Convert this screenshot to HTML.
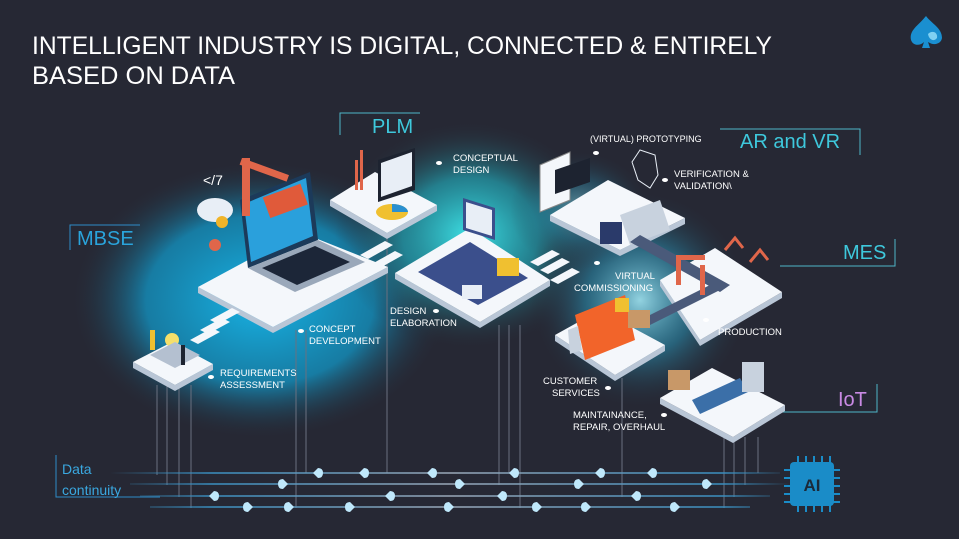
<!DOCTYPE html>
<html><head><meta charset="utf-8"><style>
html,body{margin:0;padding:0;background:#262834;}
svg{display:block}
text{font-family:"Liberation Sans",sans-serif;}
</style></head><body>
<svg width="959" height="539" viewBox="0 0 959 539" xmlns="http://www.w3.org/2000/svg">
<defs>
<radialGradient id="g1" cx="0.5" cy="0.5" r="0.5"><stop offset="0" stop-color="#18b4e6" stop-opacity="1"/><stop offset="0.6" stop-color="#1298c8" stop-opacity="0.75"/><stop offset="1" stop-color="#262834" stop-opacity="0"/></radialGradient>
<radialGradient id="g2" cx="0.5" cy="0.5" r="0.5"><stop offset="0" stop-color="#3ee0e4" stop-opacity="1"/><stop offset="0.5" stop-color="#22b8c8" stop-opacity="0.6"/><stop offset="1" stop-color="#262834" stop-opacity="0"/></radialGradient>
<radialGradient id="g3" cx="0.5" cy="0.5" r="0.5"><stop offset="0" stop-color="#9fe6f4" stop-opacity="0.9"/><stop offset="0.5" stop-color="#2a9cc0" stop-opacity="0.5"/><stop offset="1" stop-color="#262834" stop-opacity="0"/></radialGradient>
<linearGradient id="hl" gradientUnits="userSpaceOnUse" x1="110" y1="0" x2="790" y2="0"><stop offset="0" stop-color="#3a8fc0" stop-opacity="0"/><stop offset="0.15" stop-color="#3a8fc0"/><stop offset="0.5" stop-color="#9aa8b8"/><stop offset="0.9" stop-color="#3a8fc0"/><stop offset="1" stop-color="#3a8fc0" stop-opacity="0"/></linearGradient>
</defs>
<rect width="959" height="539" fill="#262834"/>
<!-- glows -->
<ellipse cx="260" cy="300" rx="190" ry="140" fill="url(#g1)"/>
<ellipse cx="470" cy="235" rx="135" ry="115" fill="url(#g2)"/>
<ellipse cx="640" cy="300" rx="110" ry="110" fill="url(#g3)"/>
<ellipse cx="580" cy="210" rx="70" ry="60" fill="url(#g3)" opacity="0.6"/>

<!-- title -->
<text x="32" y="54" font-size="25" fill="#fff" textLength="740" lengthAdjust="spacingAndGlyphs">INTELLIGENT INDUSTRY IS DIGITAL, CONNECTED &amp; ENTIRELY</text>
<text x="32" y="84" font-size="25" fill="#fff" textLength="203" lengthAdjust="spacingAndGlyphs">BASED ON DATA</text>
<!-- logo -->
<path d="M926 16 C918 26 909 30 911 40 C913 46 920 46 924 42 L922 48 L930 48 L928 42 C934 46 941 44 942 38 C942 28 932 24 926 16Z" fill="#1a8fd0"/>
<path d="M928 34 C932 30 938 32 937 38 C934 42 929 40 928 34Z" fill="#7fd0f2"/>

<!-- vertical lines -->
<g stroke="#6a7080" stroke-width="1">
<line x1="157" y1="385" x2="157" y2="475"/><line x1="167" y1="385" x2="167" y2="485"/><line x1="179" y1="385" x2="179" y2="497"/><line x1="191" y1="385" x2="191" y2="508"/>
<line x1="296" y1="330" x2="296" y2="508"/><line x1="306" y1="330" x2="306" y2="473"/>
<line x1="387" y1="234" x2="387" y2="473"/>
<line x1="499" y1="325" x2="499" y2="485"/><line x1="509" y1="325" x2="509" y2="473"/><line x1="520" y1="325" x2="520" y2="508"/>
<line x1="622" y1="378" x2="622" y2="497"/>
<line x1="724" y1="437" x2="724" y2="508"/><line x1="734" y1="437" x2="734" y2="497"/><line x1="745" y1="437" x2="745" y2="485"/><line x1="758" y1="437" x2="758" y2="473"/>
</g>
<!-- data lines -->
<g stroke="url(#hl)" stroke-width="1.6">
<line x1="110" y1="473" x2="780" y2="473"/><line x1="130" y1="484" x2="790" y2="484"/><line x1="140" y1="496" x2="770" y2="496"/><line x1="150" y1="507" x2="750" y2="507"/>
</g>
<g fill="#bfe8fb">
<path d="M313 473 l5 -5 q5 0 5 5 q0 5 -5 5z"/><path d="M359 473 l5 -5 q5 0 5 5 q0 5 -5 5z"/><path d="M427 473 l5 -5 q5 0 5 5 q0 5 -5 5z"/><path d="M509 473 l5 -5 q5 0 5 5 q0 5 -5 5z"/><path d="M595 473 l5 -5 q5 0 5 5 q0 5 -5 5z"/><path d="M647 473 l5 -5 q5 0 5 5 q0 5 -5 5z"/>
<path d="M288 484 l-5 -5 q-5 0 -5 5 q0 5 5 5z"/><path d="M465 484 l-5 -5 q-5 0 -5 5 q0 5 5 5z"/><path d="M584 484 l-5 -5 q-5 0 -5 5 q0 5 5 5z"/><path d="M712 484 l-5 -5 q-5 0 -5 5 q0 5 5 5z"/>
<path d="M209 496 l5 -5 q5 0 5 5 q0 5 -5 5z"/><path d="M385 496 l5 -5 q5 0 5 5 q0 5 -5 5z"/><path d="M497 496 l5 -5 q5 0 5 5 q0 5 -5 5z"/><path d="M631 496 l5 -5 q5 0 5 5 q0 5 -5 5z"/>
<path d="M253 507 l-5 -5 q-5 0 -5 5 q0 5 5 5z"/><path d="M294 507 l-5 -5 q-5 0 -5 5 q0 5 5 5z"/><path d="M355 507 l-5 -5 q-5 0 -5 5 q0 5 5 5z"/><path d="M454 507 l-5 -5 q-5 0 -5 5 q0 5 5 5z"/><path d="M542 507 l-5 -5 q-5 0 -5 5 q0 5 5 5z"/><path d="M591 507 l-5 -5 q-5 0 -5 5 q0 5 5 5z"/><path d="M680 507 l-5 -5 q-5 0 -5 5 q0 5 5 5z"/>
</g>
<!-- Data continuity -->
<path d="M56 455 V497 H160" fill="none" stroke="#2e8cc8" stroke-width="1"/>
<text x="62" y="474" font-size="14" fill="#3aa8e0">Data</text>
<text x="62" y="495" font-size="14" fill="#3aa8e0">continuity</text>
<!-- AI chip -->
<g stroke="#1a8cc8" stroke-width="2"><line x1="798" y1="456" x2="798" y2="512"/><line x1="806" y1="456" x2="806" y2="512"/><line x1="814" y1="456" x2="814" y2="512"/><line x1="822" y1="456" x2="822" y2="512"/><line x1="830" y1="456" x2="830" y2="512"/>
<line x1="784" y1="470" x2="840" y2="470"/><line x1="784" y1="478" x2="840" y2="478"/><line x1="784" y1="486" x2="840" y2="486"/><line x1="784" y1="494" x2="840" y2="494"/><line x1="784" y1="502" x2="840" y2="502"/></g>
<rect x="790" y="462" width="44" height="44" rx="4" fill="#1a8cc8"/>
<text x="812" y="491" font-size="17" font-weight="bold" fill="#1b2a3a" text-anchor="middle">AI</text>

<!-- category labels -->
<path d="M340 135 V113 H420" fill="none" stroke="#4fb6c8" stroke-width="1"/>
<text x="372" y="133" font-size="20" fill="#3ec8dc">PLM</text>
<path d="M720 129 H860 V155" fill="none" stroke="#4fb6c8" stroke-width="1"/>
<text x="740" y="148" font-size="20" fill="#3ec8dc">AR and VR</text>
<path d="M70 250 V225 H140" fill="none" stroke="#2e8cc8" stroke-width="1"/>
<text x="77" y="245" font-size="20" fill="#2aa4dc">MBSE</text>
<path d="M780 266 H895 V239" fill="none" stroke="#4fb6c8" stroke-width="1"/>
<text x="843" y="259" font-size="20" fill="#3ec8dc">MES</text>
<path d="M770 412 H877 V384" fill="none" stroke="#4fb6c8" stroke-width="1"/>
<text x="838" y="406" font-size="20" fill="#c98ae4">IoT</text>

<!-- platforms -->
<g>
<polygon points="198,287 273,327 388,267 388,273 273,333 198,293" fill="#b9c6d6"/>
<polygon points="198,287 300,232 388,267 273,327" fill="#f4f7fb"/>
<polygon points="133,362 175,385 213,364 213,370 175,391 133,368" fill="#b9c6d6"/>
<polygon points="133,362 172,342 213,364 175,385" fill="#f4f7fb"/>
<polygon points="330,200 387,233 437,205 437,211 387,239 330,206" fill="#b9c6d6"/>
<polygon points="330,200 375,172 437,205 387,233" fill="#f4f7fb"/>
<polygon points="395,273 480,322 550,280 550,286 480,328 395,279" fill="#b9c6d6"/>
<polygon points="395,273 470,228 550,280 480,322" fill="#f4f7fb"/>
<polygon points="418,272 470,242 528,278 478,305" fill="#3b4f8c"/>
<polygon points="550,215 620,250 685,218 685,224 620,256 550,221" fill="#b9c6d6"/>
<polygon points="550,215 608,180 685,218 620,250" fill="#f4f7fb"/>
<!-- MES -->
<polygon points="660,280 700,340 782,292 782,298 700,346 660,286" fill="#b9c6d6"/>
<polygon points="660,280 715,248 782,292 700,340" fill="#f4f7fb"/>
<polygon points="555,335 615,375 665,345 665,351 615,381 555,341" fill="#b9c6d6"/>
<polygon points="555,335 600,310 665,345 615,375" fill="#f4f7fb"/>
<polygon points="660,398 733,437 785,405 785,411 733,443 660,404" fill="#b9c6d6"/>
<polygon points="660,398 712,368 785,405 733,437" fill="#f4f7fb"/>
<g fill="#f4f7fb">
<polygon points="190,340 212,328 220,332 198,344"/><polygon points="200,330 222,318 230,322 208,334"/><polygon points="210,320 232,308 240,312 218,324"/>
<polygon points="360,255 385,241 393,245 368,259"/><polygon points="370,265 395,251 403,255 378,269"/>
<polygon points="540,270 562,258 570,262 548,274"/><polygon points="550,280 572,268 580,272 558,284"/><polygon points="530,262 552,250 560,254 538,266"/>
</g>
</g>

<!-- decorations -->
<polygon points="240,200 310,172 318,240 248,268" fill="#1c3a5a"/>
<polygon points="244,204 306,178 313,236 251,262" fill="#2aa0dc"/>
<polygon points="248,268 318,240 365,262 295,292" fill="#9aa8ba"/>
<polygon points="262,268 315,246 350,262 297,285" fill="#1c2638"/>
<rect x="265" y="190" width="40" height="22" fill="#e05a3a" transform="rotate(-20 285 200)"/>
<rect x="242" y="158" width="8" height="58" fill="#e0664a"/><rect x="242" y="158" width="50" height="7" fill="#e0664a" transform="rotate(20 242 158)"/>
<ellipse cx="215" cy="210" rx="18" ry="12" fill="#e8eef6"/><circle cx="222" cy="222" r="6" fill="#f0b429"/><circle cx="215" cy="245" r="6" fill="#e0664a"/>
<text x="203" y="185" font-size="14" fill="#fff">&lt;/7</text>
<polygon points="378,160 415,148 415,190 378,202" fill="#1d2330"/>
<polygon points="381,163 412,152 412,186 381,197" fill="#e8eef6"/>
<rect x="355" y="160" width="3" height="30" fill="#e0664a"/><rect x="360" y="150" width="3" height="40" fill="#e0664a"/>
<ellipse cx="392" cy="212" rx="16" ry="8" fill="#f0c030"/><path d="M392 212 L408 212 A16 8 0 0 0 392 204Z" fill="#2a90d0"/>
<polygon points="463,198 495,208 495,240 463,230" fill="#3b4f8c"/><polygon points="466,202 492,210 492,236 466,228" fill="#e8eef6"/>
<rect x="462" y="285" width="20" height="14" fill="#e8eef6"/>
<rect x="497" y="258" width="22" height="18" fill="#f0c030"/>
<polygon points="540,165 570,152 570,200 540,212" fill="#f4f7fb" stroke="#888"/>
<polygon points="555,170 590,158 590,182 555,194" fill="#1d2330"/>
<path d="M640 150 L655 155 L658 175 L650 188 L638 180 L632 162Z" fill="none" stroke="#e8eef6" stroke-width="1"/>
<rect x="600" y="222" width="22" height="22" fill="#2a3a6a"/>
<polygon points="620,215 660,200 670,230 630,245" fill="#c8d2de"/>
<polygon points="640,235 730,285 720,292 630,242" fill="#4a5a7a"/>
<polygon points="640,320 720,280 728,286 648,326" fill="#4a5a7a"/>
<rect x="676" y="255" width="5" height="30" fill="#e0664a"/><rect x="700" y="265" width="5" height="30" fill="#e0664a"/><rect x="676" y="255" width="29" height="5" fill="#e0664a"/>
<path d="M725 250 l10 -12 l8 10 M750 262 l10 -12 l8 10" stroke="#e0664a" stroke-width="3" fill="none"/>
<polygon points="575,315 625,295 635,340 585,360" fill="#f2642a"/>
<polygon points="568,330 578,326 582,350 570,354" fill="#c8d2de"/>
<rect x="628" y="310" width="22" height="18" fill="#c89868"/>
<rect x="615" y="298" width="14" height="14" fill="#f0c030"/>
<rect x="668" y="370" width="22" height="20" fill="#c89868"/>
<polygon points="692,400 740,378 748,392 700,414" fill="#3b6fa8"/>
<rect x="742" y="362" width="22" height="30" fill="#c8d2de"/>
<circle cx="172" cy="340" r="7" fill="#f5df6a"/><polygon points="150,355 175,342 200,355 175,368" fill="#b4c0d0"/>
<rect x="150" y="330" width="5" height="20" fill="#f0c030"/><rect x="181" y="345" width="4" height="20" fill="#1d2330"/>

<g fill="#fff">
<ellipse cx="439" cy="163" rx="3" ry="2"/><ellipse cx="596" cy="153" rx="3" ry="2"/><ellipse cx="665" cy="180" rx="3" ry="2"/>
<ellipse cx="597" cy="263" rx="3" ry="2"/><ellipse cx="706" cy="320" rx="3" ry="2"/><ellipse cx="608" cy="388" rx="3" ry="2"/>
<ellipse cx="664" cy="415" rx="3" ry="2"/><ellipse cx="436" cy="311" rx="3" ry="2"/><ellipse cx="301" cy="331" rx="3" ry="2"/><ellipse cx="211" cy="377" rx="3" ry="2"/>
</g>
<g font-size="9.5" fill="#fff">
<text x="453" y="161">CONCEPTUAL</text><text x="453" y="173">DESIGN</text>
<text x="590" y="142" font-size="9">(VIRTUAL) PROTOTYPING</text>
<text x="674" y="177">VERIFICATION &amp;</text><text x="674" y="189">VALIDATION\</text>
<text x="615" y="279">VIRTUAL</text><text x="574" y="291">COMMISSIONING</text>
<text x="718" y="335">PRODUCTION</text>
<text x="543" y="384">CUSTOMER</text><text x="552" y="396">SERVICES</text>
<text x="573" y="418">MAINTAINANCE,</text><text x="573" y="430">REPAIR, OVERHAUL</text>
<text x="390" y="314">DESIGN</text><text x="390" y="326">ELABORATION</text>
<text x="309" y="332">CONCEPT</text><text x="309" y="344">DEVELOPMENT</text>
<text x="220" y="376">REQUIREMENTS</text><text x="220" y="388">ASSESSMENT</text>
</g>
</svg>
</body></html>
